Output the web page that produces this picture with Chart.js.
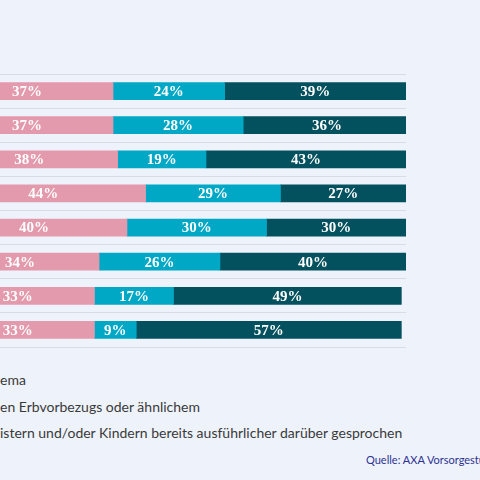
<!DOCTYPE html>
<html>
<head>
<meta charset="utf-8">
<script src="https://cdn.jsdelivr.net/npm/chart.js@4"></script>
<style>
  html, body { margin: 0; padding: 0; background: #eef3fb; overflow: hidden; }
  #wrap { position: relative; width: 480px; height: 480px; }
  #chart-box { position: absolute; left: 0; top: 0; width: 480px; height: 360px; }
  .leg { position: absolute; left: 0; font: 14px Lato, sans-serif; color: #3a3a3a; white-space: nowrap; }
  #source { position: absolute; left: 366px; top: 453px; font: 11px Lato, sans-serif; color: #2d3192; white-space: nowrap; }
</style>
</head>
<body>
<div id="wrap">
  <div id="chart-box"><canvas id="c"></canvas></div>
  <div class="leg" style="top:371px">ema</div>
  <div class="leg" style="top:398px">en Erbvorbezugs oder ähnlichem</div>
  <div class="leg" style="top:424px">istern und/oder Kindern bereits ausführlicher darüber gesprochen</div>
  <div id="source">Quelle: AXA Vorsorgestudie</div>
</div>
<script>
  // rows (labels are outside the visible crop)
  const categories = ['1', '2', '3', '4', '5', '6', '7', '8'];
  const pinkValues = [37, 37, 38, 44, 40, 34, 33, 33];
  const tealValues = [24, 28, 19, 29, 30, 26, 17, 9];
  const darkValues = [39, 36, 43, 27, 30, 40, 49, 57];

  const barLabels = {
    id: 'barLabels',
    afterDatasetsDraw(chart) {
      const ctx = chart.ctx;
      ctx.save();
      ctx.fillStyle = '#ffffff';
      ctx.font = 'bold 15px "Liberation Serif", serif';
      ctx.textAlign = 'center';
      ctx.textBaseline = 'middle';
      chart.data.datasets.forEach((ds, i) => {
        chart.getDatasetMeta(i).data.forEach((el, j) => {
          const p = el.getProps(['x', 'y', 'base'], true);
          ctx.fillText(ds.data[j] + '%', (p.x + p.base) / 2, p.y + 1);
        });
      });
      ctx.restore();
    }
  };

  new Chart(document.getElementById('c'), {
    type: 'bar',
    data: {
      labels: categories,
      datasets: [
        { data: pinkValues, backgroundColor: '#e39aac' },
        { data: tealValues, backgroundColor: '#00a8c6' },
        { data: darkValues, backgroundColor: '#03505e' }
      ]
    },
    options: {
      indexAxis: 'y',
      responsive: true, maintainAspectRatio: false,
      animation: false,
      layout: { padding: { left: 0, right: 74, top: 74, bottom: 13 } },
      datasets: { bar: { barThickness: 17, borderWidth: 0 } },
      plugins: { legend: { display: false }, tooltip: { enabled: false } },
      scales: {
        x: { stacked: true, min: 12.7, max: 100, display: false },
        y: {
          stacked: true,
          ticks: { display: false },
          border: { display: false },
          grid: { offset: true, color: '#d5dde8', lineWidth: 1, drawTicks: false }
        }
      }
    },
    plugins: [barLabels]
  });
</script>
</body>
</html>
